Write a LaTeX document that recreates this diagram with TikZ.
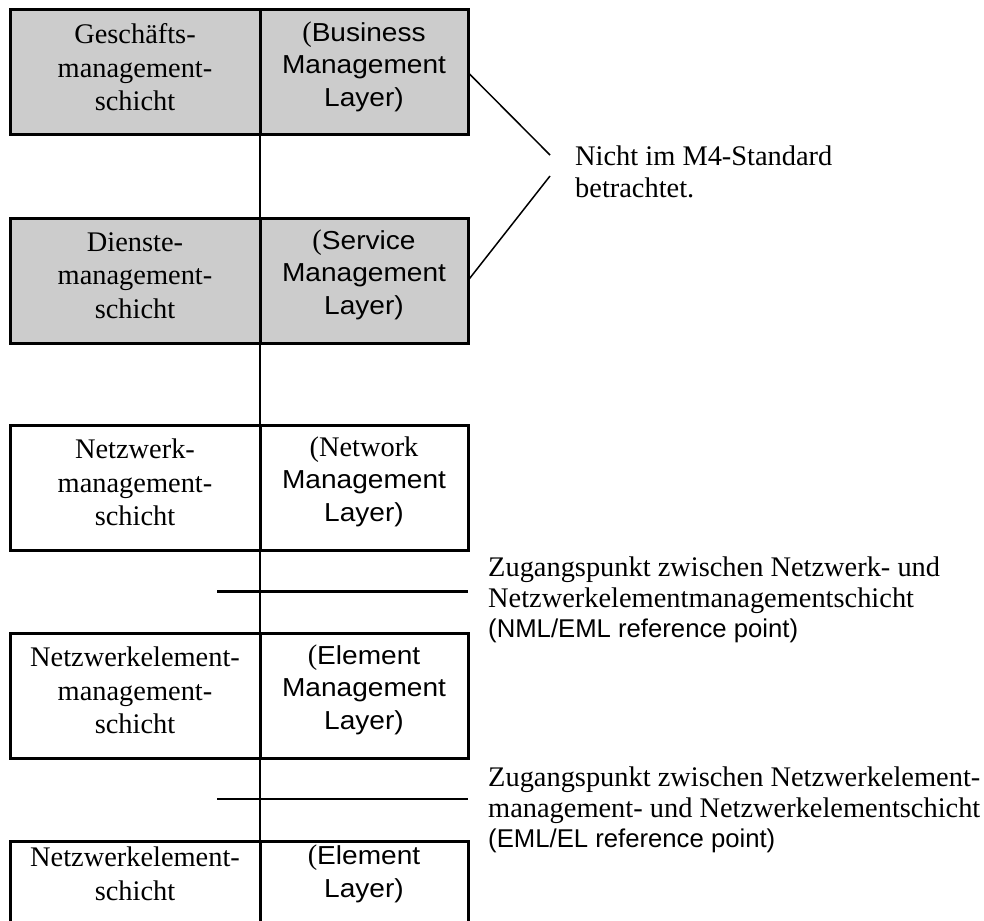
\documentclass[tikz,border=0pt]{standalone}
\usepackage{fontspec}
\setmainfont{Liberation Serif}
\setsansfont{Liberation Sans}
\newfontfamily\boxsans[FakeStretch=1.08]{Liberation Sans}
\definecolor{layergray}{RGB}{204,204,204}
% German labels in serif, English labels in sans
\newcommand\serifsize{\fontsize{28.4}{33.5}\selectfont}
\newcommand\sanssize{\fontsize{25.7}{32.5}\selectfont}
\newcommand\boxsanssize{\fontsize{26}{32.5}\selectfont}
\newcommand\serifparen[1]{{\rmfamily\fontsize{28.4}{32.5}\selectfont #1}}
\begin{document}
\begin{tikzpicture}[x=1pt,y=-1pt,
  cell/.style={draw, line width=3pt, minimum height=125pt, inner sep=0pt, outer sep=0pt},
  lcell/.style={minimum width=250pt},
  rcell/.style={minimum width=208pt},
  hi/.style={fill=layergray},
  deutsch/.style={align=center, font=\serifsize, inner sep=0pt},
  english/.style={align=center, font=\boxsans\boxsanssize, inner sep=0pt},
  note/.style={anchor=base west, inner sep=0pt, font=\serifsize},
  notesans/.style={anchor=base west, inner sep=0pt, font=\sffamily\sanssize},
  spine/.style={line width=2.7pt},
  refline/.style={line width=2.7pt},
  lead/.style={line width=1.5pt}]
\useasboundingbox (0,0) rectangle (984,920);
\clip (0,0) rectangle (984,920);

% layer boxes: left cell German, right cell English
\node[cell,lcell,hi] (b1l) at (135,72.5) {};
\node[cell,rcell,hi] (b1r) at (364,72.5) {};
\node[cell,lcell,hi] (b2l) at (135,280.5) {};
\node[cell,rcell,hi] (b2r) at (364,280.5) {};
\node[cell,lcell] (b3l) at (135,487.5) {};
\node[cell,rcell] (b3r) at (364,487.5) {};
\node[cell,lcell] (b4l) at (135,695.5) {};
\node[cell,rcell] (b4r) at (364,695.5) {};
\node[cell,lcell] (b5l) at (135,903.5) {};
\node[cell,rcell] (b5r) at (364,903.5) {};

% labels inside the boxes
\node[deutsch] (t1l) at (135,67.5) {Geschäfts-\\management-\\schicht};
\node[english] (t1r) at (364,66.5) {\serifparen{(}Business\\Management\\Layer)};
\node[deutsch] (t2l) at (135,275.5) {Dienste-\\management-\\schicht};
\node[english] (t2r) at (364,274.5) {\serifparen{(}Service\\Management\\Layer)};
\node[deutsch] (t3l) at (135,482.5) {Netzwerk-\\management-\\schicht};
\node[english] (t3r) at (364,481.5) {\serifparen{(Network}\\Management\\Layer)};
\node[deutsch] (t4l) at (135,690.5) {Netzwerkelement-\\management-\\schicht};
\node[english] (t4r) at (364,689.5) {\serifparen{(}Element\\Management\\Layer)};
\node[deutsch] (t5l) at (135,874) {Netzwerkelement-\\schicht};
\node[english] (t5r) at (364,874) {\serifparen{(}Element\\Layer)};

% vertical spine joining the layers
\draw[spine] (b1l.south east) -- (b2l.north east);
\draw[spine] (b2l.south east) -- (b3l.north east);
\draw[spine] (b3l.south east) -- (b4l.north east);
\draw[spine] (b4l.south east) -- (b5l.north east);

% reference points between the lower layers
\coordinate (r1) at (217,591.5);
\coordinate (r2) at (217,799);
\draw[refline] (r1) -- (r1 -| b3r.east);
\draw[refline] (r2) -- (r2 -| b4r.east);

% note on the two upper layers
\coordinate (n1) at (550,155);
\coordinate (n2) at (550,176);
\draw[lead] (b1r.east) -- (n1);
\draw[lead] (b2r.east) -- (n2);
\node[note] (nA) at (575,165) {Nicht im M4-Standard};
\node[note] (nB) at (575,197) {betrachtet.};

% reference point descriptions
\node[note] (zA) at (488,576.5) {Zugangspunkt zwischen Netzwerk- und};
\node[note] (zB) at (488,607.5) {Netzwerkelementmanagementschicht};
\node[notesans] (zC) at (488,637.5) {(NML/EML reference point)};
\node[note] (eA) at (488,786) {Zugangspunkt zwischen Netzwerkelement-};
\node[note] (eB) at (488,817) {management- und Netzwerkelementschicht};
\node[notesans] (eC) at (488,847) {(EML/EL reference point)};
\end{tikzpicture}
\end{document}
